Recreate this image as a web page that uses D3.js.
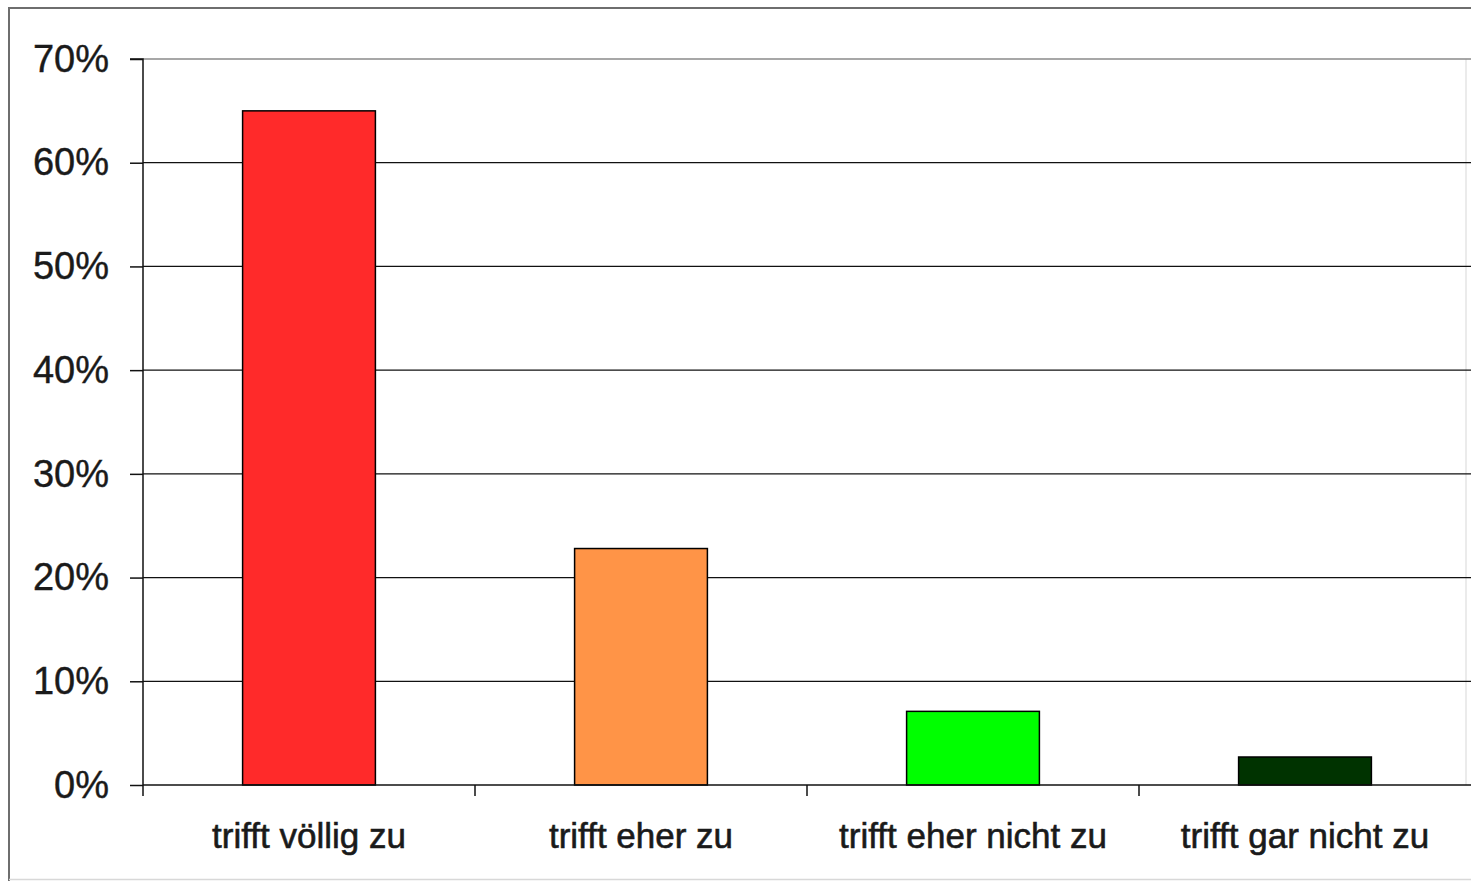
<!DOCTYPE html>
<html><head><meta charset="utf-8">
<script src="https://cdn.jsdelivr.net/npm/d3@7"></script>
<style>body{margin:0;background:#fff}svg{display:block}</style>
</head><body>
<script>
const categories = ["trifft völlig zu", "trifft eher zu", "trifft eher nicht zu", "trifft gar nicht zu"];
const values = [0.65, 0.228, 0.071, 0.027];
const colors = ["#ff2a2a", "#ff9447", "#00ff00", "#003300"];
const yTicks = [0, 0.1, 0.2, 0.3, 0.4, 0.5, 0.6, 0.7];

const W = 1471, H = 881;
const svg = d3.select("body").append("svg").attr("width", W).attr("height", H);
svg.append("rect").attr("width", W).attr("height", H).attr("fill", "#fff");
// outer chart border (left + top dark, bottom light)
svg.append("path").attr("d", `M9,${H}V8H${W}`).attr("fill", "none")
  .attr("stroke", "#6e6e6e").attr("stroke-width", 2);
svg.append("line").attr("x1", 9).attr("x2", W).attr("y1", H - 1.5).attr("y2", H - 1.5)
  .attr("stroke", "#d8d8d8").attr("stroke-width", 1.5);

const pLeft = 143, pRight = 1471, pTop = 59, pBottom = 785;
const x = d3.scaleBand().domain(categories).range([pLeft, pRight]).paddingInner(0.6).paddingOuter(0.3);
const xTickScale = d3.scaleBand().domain(categories).range([pLeft, pRight]);
const y = d3.scaleLinear().domain([0, 0.7]).range([pBottom, pTop]);

// plot-area border (light)
svg.append("line").attr("x1", 1466).attr("x2", 1466).attr("y1", pTop).attr("y2", pBottom)
  .attr("stroke", "#e4e4e4").attr("stroke-width", 1.5);

// gridlines
svg.append("g").selectAll("line").data(yTicks.filter(d => d > 0)).join("line")
  .attr("x1", pLeft).attr("x2", pRight).attr("y1", d => y(d)).attr("y2", d => y(d))
  .attr("stroke", d => d === 0.7 ? "#8a8a8a" : "#111").attr("stroke-width", 1.3);

// bars
svg.append("g").selectAll("rect").data(categories).join("rect")
  .attr("x", d => x(d)).attr("width", x.bandwidth())
  .attr("y", (d, i) => y(values[i])).attr("height", (d, i) => y(0) - y(values[i]))
  .attr("fill", (d, i) => colors[i]).attr("stroke", "#000").attr("stroke-width", 1.5);

// y axis
const yAxis = d3.axisLeft(y).tickValues(yTicks).tickFormat(d3.format(".0%")).tickSize(13).tickPadding(21);
const gy = svg.append("g").attr("transform", `translate(${pLeft},0)`).call(yAxis);
gy.select(".domain").attr("stroke", "#111").attr("stroke-width", 1.5).attr("d", `M-13,${pTop}H0V${pBottom}`);
gy.selectAll(".tick line").attr("stroke", "#111").attr("stroke-width", 1.5);
gy.selectAll(".tick text").attr("font-family", "Liberation Sans, Arial, sans-serif")
  .attr("font-size", 38).attr("fill", "#1a1a1a").attr("stroke", "#1a1a1a").attr("stroke-width", 0.4);

// x axis line + ticks at band boundaries
const gx = svg.append("g");
gx.append("line").attr("x1", pLeft).attr("x2", pRight).attr("y1", pBottom).attr("y2", pBottom)
  .attr("stroke", "#111").attr("stroke-width", 1.5);
const boundaries = categories.map(c => xTickScale(c));
gx.selectAll("line.t").data(boundaries).join("line").attr("class", "t")
  .attr("x1", d => d).attr("x2", d => d).attr("y1", pBottom).attr("y2", pBottom + 11)
  .attr("stroke", "#111").attr("stroke-width", 1.5);
gx.selectAll("text").data(categories).join("text")
  .attr("x", d => x(d) + x.bandwidth() / 2).attr("y", 848)
  .attr("text-anchor", "middle").attr("font-family", "Liberation Sans, Arial, sans-serif")
  .attr("font-size", 35).attr("fill", "#1a1a1a").attr("stroke", "#1a1a1a").attr("stroke-width", 0.6)
  .text(d => d);
</script>
</body></html>
